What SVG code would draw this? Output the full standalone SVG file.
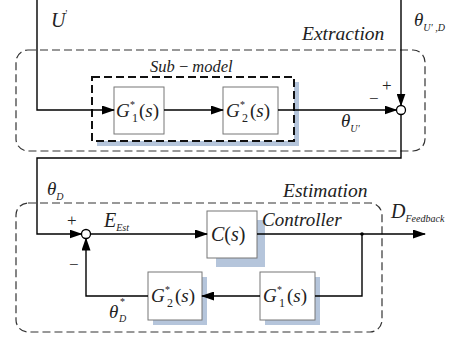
<svg xmlns="http://www.w3.org/2000/svg" width="460" height="339" viewBox="0 0 460 339">
<defs>
<marker id="arr" markerWidth="13" markerHeight="9" refX="12" refY="4.5" orient="auto" markerUnits="userSpaceOnUse">
<path d="M0,0 L13,4.5 L0,9 z" fill="#000"/>
</marker>
</defs>
<style>
text{font-family:'Liberation Serif',serif;fill:#222}
.i{font-style:italic}
.n{font-style:normal}
.box{fill:#fff;stroke:#777;stroke-width:1}
.sh{fill:#b5c5db}
.w{fill:none;stroke:#000;stroke-width:1.4}
.dash{fill:none;stroke:#333;stroke-width:1.2;stroke-dasharray:8 4}
.sum{fill:#fff;stroke:#000;stroke-width:1.3}
</style>
<rect width="460" height="339" fill="#fff"/>

<g id="extraction">
<rect class="dash" x="16" y="50" width="409" height="101" rx="12"/>
<text class="i" x="302" y="40" font-size="19.5">Extraction</text>
</g>
<g id="estimation">
<rect class="dash" x="16" y="203" width="366" height="129" rx="12"/>
<text class="i" x="283" y="197" font-size="19.5">Estimation</text>
</g>
<g id="submodel">
<rect class="sh" x="97" y="82" width="202" height="64"/>
<rect x="92" y="77" width="202" height="64" fill="#fff" stroke="#111" stroke-width="2" stroke-dasharray="8 4"/>
<text class="i" x="150" y="72" font-size="16.5">Sub <tspan class="n">−</tspan> model</text>
</g>

<g id="G1top">
<rect class="box" x="114" y="87" width="50" height="47"/>
<text font-size="19" y="117"><tspan class="i" x="116">G</tspan><tspan x="130" y="108" font-size="10">*</tspan><tspan x="132" y="122" font-size="12">1</tspan><tspan x="139" y="117">(</tspan><tspan class="i">s</tspan><tspan>)</tspan></text>
</g>
<g id="G2top">
<rect class="box" x="223" y="87" width="55" height="47"/>
<text font-size="19" y="117"><tspan class="i" x="226">G</tspan><tspan x="240" y="108" font-size="10">*</tspan><tspan x="242" y="122" font-size="12">2</tspan><tspan x="250" y="117">(</tspan><tspan class="i">s</tspan><tspan>)</tspan></text>
</g>
<g id="C">
<rect class="sh" x="216" y="220" width="49" height="47"/>
<rect class="box" x="207" y="211" width="50" height="47"/>
<text font-size="20" y="241"><tspan class="i" x="211">C</tspan><tspan>(</tspan><tspan class="i">s</tspan><tspan>)</tspan></text>
<text class="i" x="262" y="226" font-size="19">Controller</text>
</g>
<g id="G1bot">
<rect class="sh" x="265" y="277" width="55" height="48"/>
<rect class="box" x="260" y="272" width="55" height="48"/>
<text font-size="19" y="302"><tspan class="i" x="263">G</tspan><tspan x="277" y="293" font-size="10">*</tspan><tspan x="279" y="307" font-size="12">1</tspan><tspan x="287" y="302">(</tspan><tspan class="i">s</tspan><tspan>)</tspan></text>
</g>
<g id="G2bot">
<rect class="sh" x="153" y="277" width="54" height="48"/>
<rect class="box" x="148" y="272" width="54" height="48"/>
<text font-size="19" y="302"><tspan class="i" x="151">G</tspan><tspan x="165" y="293" font-size="10">*</tspan><tspan x="167" y="307" font-size="12">2</tspan><tspan x="175" y="302">(</tspan><tspan class="i">s</tspan><tspan>)</tspan></text>
</g>

<g id="connectors">
<path class="w" d="M37,0 V110 H114" marker-end="url(#arr)"/>
<path class="w" d="M164,110 H223" marker-end="url(#arr)"/>
<path class="w" d="M278,110 H396.5" marker-end="url(#arr)"/>
<path class="w" d="M401,0 V105.5" marker-end="url(#arr)"/>
<path class="w" d="M401,114.5 V158 H37 V234 H81.5" marker-end="url(#arr)"/>
<path class="w" d="M90.5,234 H207" marker-end="url(#arr)"/>
<path class="w" d="M257,234 H425" marker-end="url(#arr)"/>
<path class="w" d="M362,234 V296 H315"/>
<path class="w" d="M260,296 H202" marker-end="url(#arr)"/>
<path class="w" d="M148,296 H86 V238.5" marker-end="url(#arr)"/>
<circle cx="362" cy="234" r="1.8" fill="#000"/>
</g>

<g id="sum1">
<circle class="sum" cx="401" cy="110" r="4.5"/>
<text x="382" y="91" font-size="17">+</text>
<text x="369" y="104" font-size="17">−</text>
</g>
<g id="sum2">
<circle class="sum" cx="86" cy="234" r="4.5"/>
<text x="67" y="226" font-size="17">+</text>
<text x="69" y="270" font-size="17">−</text>
</g>

<g id="labels">
<text class="i" x="51" y="27" font-size="20">U<tspan class="n" font-size="10" dy="-10">'</tspan></text>
<text class="i" x="414" y="26" font-size="19">θ<tspan font-size="10" dy="5">U' ,D</tspan></text>
<text class="i" x="341" y="127" font-size="19">θ<tspan font-size="10" dy="5">U'</tspan></text>
<text class="i" x="47" y="195" font-size="19">θ<tspan font-size="10" dy="5">D</tspan></text>
<text class="i" x="104" y="227" font-size="20">E<tspan font-size="10" dy="4">Est</tspan></text>
<text class="i" x="109" y="318" font-size="19">θ<tspan class="n" font-size="10" x="120" y="305">*</tspan><tspan font-size="10" x="119" y="322">D</tspan></text>
<text class="i" x="391" y="218" font-size="20">D<tspan font-size="10" dy="4">Feedback</tspan></text>
</g>
</svg>
